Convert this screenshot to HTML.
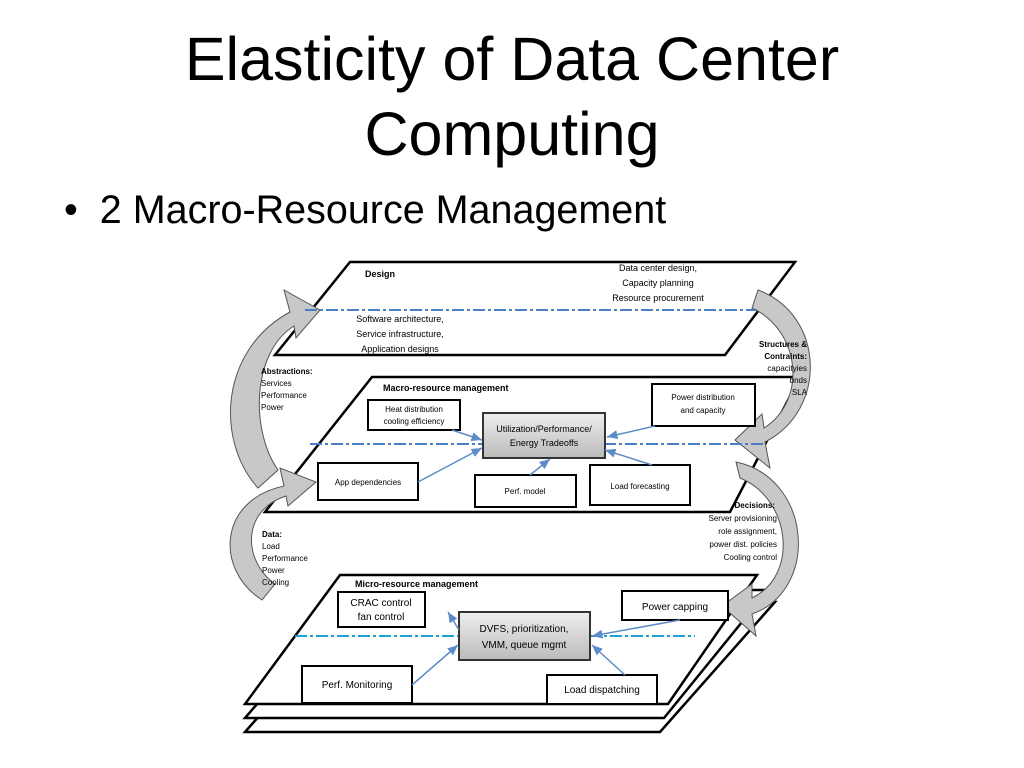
<!DOCTYPE html>
<html><head><meta charset="utf-8"><style>
body{margin:0;background:#fff;width:1024px;height:768px;overflow:hidden;font-family:"Liberation Sans",sans-serif}
h1{position:absolute;top:22px;left:0;width:1024px;text-align:center;margin:0;font-weight:normal;font-size:61px;line-height:75px}
.b{position:absolute;left:64px;top:188px;font-size:39.5px}
svg{position:absolute;left:0;top:0}
</style></head><body>
<h1>Elasticity of Data Center<br>Computing</h1>
<div class="b">•&nbsp; 2 Macro-Resource Management</div>
<svg width="1024" height="768" font-family="Liberation Sans, sans-serif" font-size="9">
<defs><linearGradient id="g" x1="0" y1="0" x2="0" y2="1"><stop offset="0" stop-color="#eee"/><stop offset="1" stop-color="#bbb"/></linearGradient>
<marker id="a" markerWidth="8" markerHeight="8" refX="7" refY="4" orient="auto"><path d="M0,1 L7,4 L0,7z" fill="#5b8cc8"/></marker></defs>
<g fill="#fff" stroke="#000" stroke-width="2.5">
<path d="M360,602 L775,602 L660,732 L245,732 z"/>
<path d="M355,590 L768,590 L664,718 L245,718 z"/>
<path d="M350,262 L795,262 L725,355 L275,355 z"/>
<path d="M372,377 L800,377 L730,512 L265,512 z"/>
<path d="M340,575 L757,575 L668,704 L245,704 z"/>
</g>
<g fill="#c8c8c8" stroke="#555" stroke-width="1">
<path d="M258,488 C215,440 220,350 290,312 L284,290 L320,310 L296,338 L294,326 C252,352 250,430 278,470 z"/>
<path d="M758,290 C825,315 828,410 765,442 L770,468 L735,440 L762,414 L764,428 C808,400 800,330 752,308 z"/>
<path d="M262,600 C215,570 218,500 284,486 L280,468 L316,482 L288,506 L286,496 C242,510 242,560 275,584 z"/>
<path d="M736,462 C812,478 820,590 752,614 L756,636 L722,606 L752,584 L752,598 C800,575 790,498 740,478 z"/>
</g>
<g stroke="#4a7fc1" stroke-width="2" stroke-dasharray="12,3,3,3">
<line x1="305" y1="310" x2="757" y2="310"/>
<line x1="310" y1="444" x2="765" y2="444"/>
<line x1="295" y1="636" x2="695" y2="636" stroke="#20a0d8"/>
</g>
<g stroke="#000" stroke-width="2" fill="#fff">
<rect x="368" y="400" width="92" height="30"/>
<rect x="652" y="384" width="103" height="42"/>
<rect x="318" y="463" width="100" height="37"/>
<rect x="475" y="475" width="101" height="32"/>
<rect x="590" y="465" width="100" height="40"/>
<rect x="338" y="592" width="87" height="35"/>
<rect x="622" y="591" width="106" height="29"/>
<rect x="302" y="666" width="110" height="37"/>
<rect x="547" y="675" width="110" height="29"/>
<rect x="483" y="413" width="122" height="45" fill="url(#g)" stroke="#333"/>
<rect x="459" y="612" width="131" height="48" fill="url(#g)" stroke="#333"/>
</g>
<g stroke="#5b8cc8" stroke-width="1.5" fill="none" marker-end="url(#a)">
<line x1="452" y1="430" x2="482" y2="440"/>
<line x1="418" y1="482" x2="482" y2="448"/>
<line x1="530" y1="475" x2="550" y2="459"/>
<line x1="655" y1="426" x2="607" y2="437"/>
<line x1="652" y1="465" x2="605" y2="450"/>
<line x1="459" y1="630" x2="448" y2="612"/>
<line x1="412" y1="685" x2="458" y2="645"/>
<line x1="680" y1="620" x2="592" y2="636"/>
<line x1="625" y1="675" x2="592" y2="645"/>
</g>
<g fill="#000">
<text x="365" y="277" font-weight="bold">Design</text>
<text x="658" y="271" text-anchor="middle">Data center design,</text>
<text x="658" y="286" text-anchor="middle">Capacity planning</text>
<text x="658" y="301" text-anchor="middle">Resource procurement</text>
<text x="400" y="322" text-anchor="middle">Software architecture,</text>
<text x="400" y="337" text-anchor="middle">Service infrastructure,</text>
<text x="400" y="352" text-anchor="middle">Application designs</text>
<g font-size="8"><text x="261" y="374" font-weight="bold">Abstractions:</text><text x="261" y="386">Services</text><text x="261" y="398">Performance</text><text x="261" y="410">Power</text>
<text x="807" y="347" text-anchor="end" font-weight="bold">Structures &amp;</text><text x="807" y="359" text-anchor="end" font-weight="bold">Contraints:</text><text x="807" y="371" text-anchor="end">capacityies</text><text x="807" y="383" text-anchor="end">bnds</text><text x="807" y="395" text-anchor="end">SLA</text>
<text x="262" y="537" font-weight="bold">Data:</text><text x="262" y="549">Load</text><text x="262" y="561">Performance</text><text x="262" y="573">Power</text><text x="262" y="585">Cooling</text>
<text x="775" y="508" text-anchor="end" font-weight="bold">Decisions:</text><text x="777" y="521" text-anchor="end">Server provisioning</text><text x="777" y="534" text-anchor="end">role assignment,</text><text x="777" y="547" text-anchor="end">power dist. policies</text><text x="777" y="560" text-anchor="end">Cooling control</text></g>
<text x="383" y="391" font-weight="bold">Macro-resource management</text>
<text x="414" y="412" text-anchor="middle" font-size="8">Heat distribution</text><text x="414" y="424" text-anchor="middle" font-size="8">cooling efficiency</text>
<text x="703" y="400" text-anchor="middle" font-size="8">Power distribution</text><text x="703" y="413" text-anchor="middle" font-size="8">and capacity</text>
<text x="544" y="432" text-anchor="middle">Utilization/Performance/</text><text x="544" y="446" text-anchor="middle">Energy Tradeoffs</text>
<text x="368" y="485" text-anchor="middle" font-size="8">App dependencies</text>
<text x="525" y="494" text-anchor="middle" font-size="8">Perf. model</text>
<text x="640" y="489" text-anchor="middle" font-size="8">Load forecasting</text>
<text x="355" y="587" font-weight="bold">Micro-resource management</text>
<text x="381" y="606" text-anchor="middle" font-size="10">CRAC control</text><text x="381" y="620" text-anchor="middle" font-size="10">fan control</text>
<text x="675" y="610" text-anchor="middle" font-size="10">Power capping</text>
<text x="524" y="632" text-anchor="middle" font-size="10">DVFS, prioritization,</text><text x="524" y="648" text-anchor="middle" font-size="10">VMM, queue mgmt</text>
<text x="357" y="688" text-anchor="middle" font-size="10">Perf. Monitoring</text>
<text x="602" y="693" text-anchor="middle" font-size="10">Load dispatching</text>
</g>
</svg>
</body></html>
